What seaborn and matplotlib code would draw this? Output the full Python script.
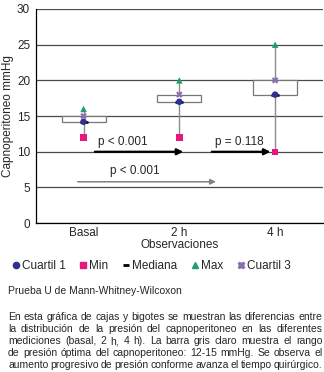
import numpy as np
import pandas as pd
import matplotlib
matplotlib.use("Agg")
import matplotlib.pyplot as plt
from matplotlib.lines import Line2D
import seaborn as sns

# datos
obs = ["Basal", "2 h", "4 h"]
q1 = [14.2, 17, 18]
q3 = [15, 18, 20]
minimo = [12, 12, 10]
maximo = [16, 20, 25]
mediana = [14.2, 17, 18]

stats_names = ["Cuartil 1", "Min", "Max", "Cuartil 3"]
colores = {"Cuartil 1": "#2e3192", "Min": "#e6177f", "Max": "#1e9e6a",
           "Cuartil 3": "#8a6fae", "Mediana": "black"}
marcas = {"Cuartil 1": "o", "Min": "s", "Max": "^", "Cuartil 3": "X"}

df = pd.DataFrame({
    "obs": obs * 4,
    "stat": np.repeat(stats_names, 3),
    "value": q1 + minimo + maximo + q3,
})
df_med = pd.DataFrame({"obs": obs, "value": mediana})

sns.set_style("white")
plt.rcParams["font.family"] = ["Liberation Sans", "DejaVu Sans"]

fig = plt.figure(figsize=(3.24, 3.72), dpi=100)
ax = fig.add_axes([0.11, 0.40, 0.887, 0.576])

pos = np.arange(len(obs))
# bigotes y cajas
ax.vlines(pos, minimo, maximo, color="#8c8c8c", lw=1, zorder=2)
ax.bar(pos, np.array(q3) - np.array(q1), bottom=q1, width=0.46,
       facecolor="white", edgecolor="#777777", lw=0.9, zorder=2)

sns.scatterplot(data=df_med, x="obs", y="value", marker="_", color="black",
                s=30, linewidth=1.8, ax=ax, zorder=3, legend=False)
sns.scatterplot(data=df, x="obs", y="value", hue="stat", style="stat",
                hue_order=stats_names, style_order=stats_names,
                palette=colores, markers=marcas, s=22, linewidth=0,
                ax=ax, zorder=4, legend=False)

# flechas de significancia
ax.annotate("", xy=(1.07, 10), xytext=(0.09, 10),
            arrowprops=dict(arrowstyle="-|>", color="black", lw=1.6,
                            mutation_scale=9), zorder=5)
ax.text(0.41, 10.5, "p < 0.001", ha="center", va="bottom", fontsize=8.5)
ax.annotate("", xy=(1.98, 10), xytext=(1.31, 10),
            arrowprops=dict(arrowstyle="-|>", color="black", lw=1.6,
                            mutation_scale=9), zorder=5)
ax.text(1.63, 10.5, "p = 0.118", ha="center", va="bottom", fontsize=8.5)
ax.annotate("", xy=(1.41, 5.8), xytext=(-0.09, 5.8),
            arrowprops=dict(arrowstyle="-|>", color="#808080", lw=1.1,
                            mutation_scale=8))
ax.text(0.54, 6.4, "p < 0.001", ha="center", va="bottom", fontsize=8.5)

ax.set_xlim(-0.5, 2.5)
ax.set_ylim(0, 30)
ax.set_yticks(range(0, 31, 5))
ax.set_yticks(range(0, 31, 1), minor=True)
ax.set_xticks(pos)
ax.set_xticklabels(obs)
ax.set_xticks([0.5, 1.5, 2.5], minor=True)
ax.tick_params(axis="x", which="major", length=0, labelsize=8.5, pad=3)
ax.tick_params(axis="x", which="minor", length=4, direction="out", width=0.8)
ax.tick_params(axis="y", which="major", length=3, direction="out", labelsize=8.5, pad=1)
ax.tick_params(axis="y", which="minor", length=3, direction="inout", width=0.6)
ax.grid(axis="y", which="major", color="#4a4a4a", lw=0.9)
ax.set_axisbelow(True)
for s in ["top", "right"]:
    ax.spines[s].set_visible(False)
for s in ["left", "bottom"]:
    ax.spines[s].set_color("black")
    ax.spines[s].set_linewidth(0.9)
ax.set_xlabel("Observaciones", fontsize=8.5, labelpad=0)
ax.set_ylabel("Capnoperitoneo mmHg", fontsize=8.5, labelpad=2)

handles = [
    Line2D([], [], ls="", marker="o", color=colores["Cuartil 1"], ms=4.5),
    Line2D([], [], ls="", marker="s", color=colores["Min"], ms=4.5),
    Line2D([], [], ls="", marker="_", color="black", ms=4, mew=2),
    Line2D([], [], ls="", marker="^", color=colores["Max"], ms=4.5),
    Line2D([], [], ls="", marker="X", color=colores["Cuartil 3"], ms=4.5),
]
fig.legend(handles, ["Cuartil 1", "Min", "Mediana", "Max", "Cuartil 3"],
           loc="center", bbox_to_anchor=(0.465, 1 - 266 / 372), ncol=5,
           frameon=False, fontsize=8.5, handletextpad=0.1, columnspacing=1.1,
           handlelength=0.8, borderpad=0.2)

fig.text(0.025, 1 - 291 / 372, "Prueba U de Mann-Whitney-Wilcoxon",
         fontsize=7.5, va="center")

lineas = [
    "En esta gráfica de cajas y bigotes se muestran las diferencias entre",
    "la distribución de la presión del capnoperitoneo en las diferentes",
    "mediciones (basal, 2 h, 4 h). La barra gris claro muestra el rango",
    "de presión óptima del capnoperitoneo: 12-15 mmHg. Se observa el",
    "aumento progresivo de presión conforme avanza el tiempo quirúrgico.",
]
# texto justificado palabra por palabra
fig.canvas.draw()
r = fig.canvas.get_renderer()
x0, x1 = 0.025 * 324, 0.995 * 324
for i, linea in enumerate(lineas):
    y = 1 - (317 + 12 * i) / 372
    palabras = linea.split()
    objs = [fig.text(0, y, p, fontsize=7.5, va="center") for p in palabras]
    anchos = [o.get_window_extent(r).width for o in objs]
    hueco = (x1 - x0 - sum(anchos)) / (len(palabras) - 1)
    x = x0
    for o, w in zip(objs, anchos):
        o.set_x(x / 324)
        x += w + hueco

fig.savefig("out.png", dpi=100)
